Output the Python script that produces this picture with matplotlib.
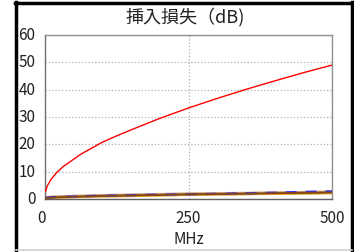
import matplotlib
matplotlib.use("Agg")
import matplotlib.pyplot as plt
from matplotlib.lines import Line2D
from matplotlib.transforms import ScaledTranslation

plt.rcParams['font.family'] = ['Noto Sans CJK JP', 'DejaVu Sans']

freq = [1, 4, 10, 16, 20, 31.25, 62.5, 100, 125, 150, 200, 250, 300, 350, 400, 450, 500]
red = [2.8, 4.8, 7.0, 8.6, 9.6, 11.8, 16.4, 20.8, 23.1, 25.3, 29.5, 33.3, 36.8, 40.1, 43.2, 46.2, 49.0]
brown = [0.3, 0.4, 0.5, 0.6, 0.6, 0.7, 0.9, 1.1, 1.2, 1.3, 1.5, 1.7, 1.8, 2.0, 2.1, 2.3, 2.4]
orange = [0.2, 0.3, 0.4, 0.5, 0.5, 0.6, 0.8, 1.0, 1.0, 1.1, 1.3, 1.5, 1.7, 1.8, 1.9, 2.0, 2.1]
tan = [0.4, 0.5, 0.6, 0.7, 0.7, 0.8, 1.0, 1.2, 1.3, 1.4, 1.6, 1.8, 1.9, 2.0, 2.2, 2.3, 2.5]
blue = [0.5, 0.5, 0.6, 0.7, 0.7, 0.8, 1.0, 1.2, 1.3, 1.4, 1.6, 1.7, 1.9, 2.1, 2.3, 2.6, 2.8]
green = [0.3, 0.4, 0.5, 0.6, 0.6, 0.7, 0.9, 1.1, 1.2, 1.3, 1.5, 1.7, 1.8, 1.9, 2.1, 2.2, 2.4]

xticks = [0, 250, 500]
yticks = [0, 10, 20, 30, 40, 50, 60]

W, H = 354, 253
fig = plt.figure(figsize=(W/100, H/100), dpi=100)
ax = fig.add_axes([45/W, 1-200/H, (332-45)/W, (200-36)/H])

ax.plot(freq, tan, color='#c8a078', lw=2.5, zorder=2)
ax.plot(freq, orange, color='#f0a020', lw=1.6, zorder=3)
ax.plot(freq, green, color='#3a8a3a', lw=1.0, zorder=3)
ax.plot(freq, blue, color='#3030ff', lw=1.6, ls=(0, (5, 4)), zorder=4)
ax.plot(freq, brown, color='#8b4513', lw=1.3, zorder=4)
ax.plot(freq, red, color='#ff0000', lw=1.0, zorder=5)

ax.set_xlim(0, 500)
ax.set_ylim(0, 60)
ax.set_xticks(xticks)
ax.set_yticks(yticks)
ax.grid(True, color='#b0b0b0', ls=':', lw=0.9)
ax.tick_params(length=0, labelsize=11, colors='#222222')
ax.tick_params(axis='y', pad=7)
ax.tick_params(axis='x', pad=7)
for s in ax.spines.values():
    s.set_color('#909090')
    s.set_linewidth(1.0)
ax.spines['left'].set_color('#707070')
ax.spines['bottom'].set_color('#606060')
ax.set_xlabel('MHz', fontsize=11, color='#222222', labelpad=3)

fig.canvas.draw()
up = ScaledTranslation(0, 2.5/100, fig.dpi_scale_trans)
for lab in ax.get_yticklabels():
    lab.set_transform(lab.get_transform() + up)
xl = ax.get_xticklabels()
xl[0].set_transform(xl[0].get_transform() + ScaledTranslation(-4/100, 0, fig.dpi_scale_trans))

fig.text(185/W, 1-17/H, '挿入損失（dB)', ha='center', va='center', fontsize=13, color='#222222')

# outer frame
fig.add_artist(Line2D([16/W, 16/W], [0, 1-3/H], color='black', lw=2.5, transform=fig.transFigure))
fig.add_artist(Line2D([352/W, 352/W], [0, 1-3/H], color='black', lw=2.5, transform=fig.transFigure))
fig.add_artist(Line2D([15/W, 353/W], [1-4/H, 1-4/H], color='black', lw=2.5, transform=fig.transFigure))
fig.add_artist(Line2D([16/W, 352/W], [1-251/H, 1-251/H], color='#d0d0d0', lw=1.2, transform=fig.transFigure))

fig.savefig('out.png', dpi=100)
